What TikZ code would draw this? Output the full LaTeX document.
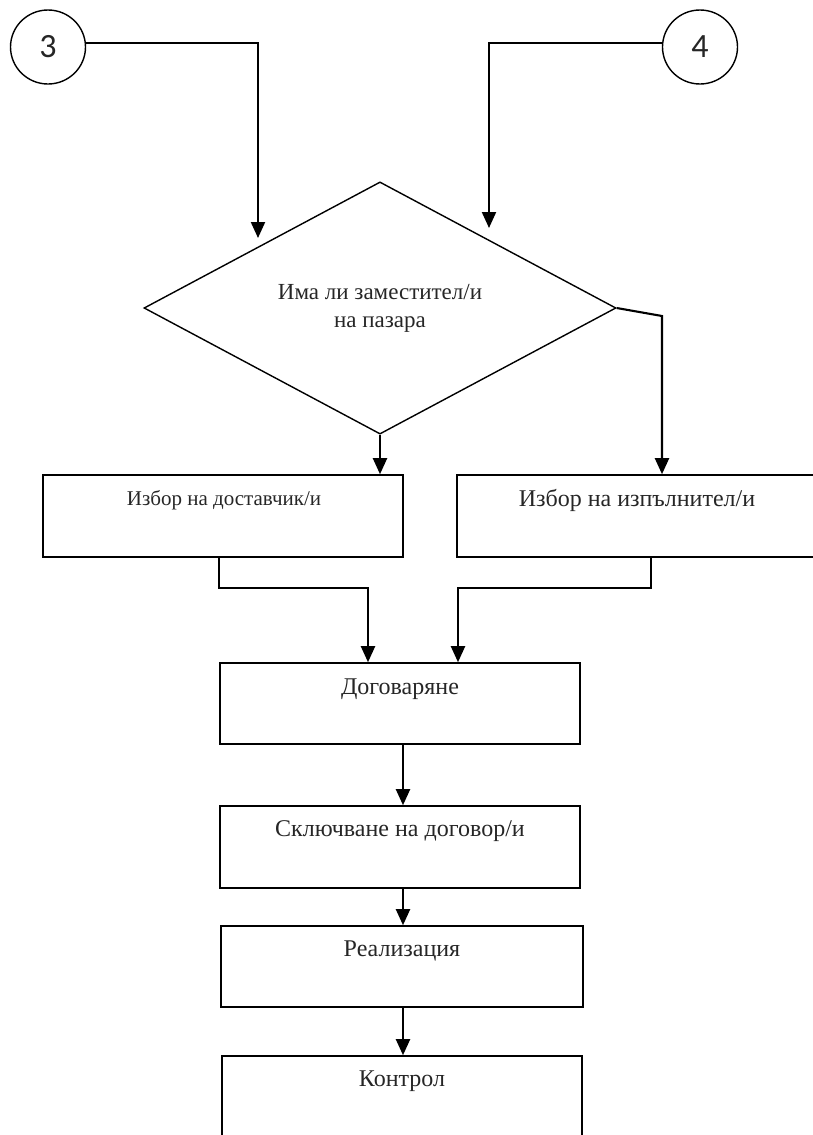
\documentclass[tikz,border=0pt]{standalone}
\usepackage{fontspec}
\setmainfont{Liberation Serif}
\newfontfamily\digitfont{Carlito}
\usetikzlibrary{shapes.geometric,arrows.meta,calc}
\begin{document}
\begin{tikzpicture}[x=1pt,y=-1pt,
  conn/.style={line width=2.1pt},
  arr/.style={conn,-{Triangle[width=14pt,length=16pt]}},
  onpage/.style={draw,line width=1.4pt,ellipse,minimum width=75pt,minimum height=74pt,inner sep=0pt,font=\digitfont\fontsize{34}{36}\selectfont,text=black!85},
  decision/.style={draw,line width=1.4pt,diamond,minimum width=472pt,minimum height=252pt,inner sep=0pt,align=center,font=\fontsize{23}{28}\selectfont,text=black!85},
  stepbox/.style={draw,line width=1.6pt,rectangle,minimum width=360pt,minimum height=82pt,inner sep=0pt},
  lbl/.style={anchor=center,yshift=-26pt,font=\fontsize{24}{28}\selectfont,text=black!85},
  lblsmall/.style={anchor=center,yshift=-26pt,font=\fontsize{21}{24}\selectfont,text=black!85}
]
\useasboundingbox (0,0) rectangle (813,1135);
\clip (0,0) rectangle (813,1135);

\node[onpage] (c3) at (48,47) {3};
\node[onpage] (c4) at (700,47) {4};
\node[decision] (dia) at (380,308) {Има ли заместител/и\\на пазара};

\coordinate (t3) at (258,238);
\coordinate (t4) at (489,228);

\node[stepbox,label={[lblsmall,xshift=1pt]north:Избор на доставчик/и}] (b1) at (223,516) {};
\node[stepbox,label={[lbl]north:Избор на изпълнител/и}] (b2) at (637,516) {};
\node[stepbox,minimum height=81pt,label={[lbl,yshift=-1pt]north:Договаряне}] (dog) at (400,703.5) {};
\node[stepbox,label={[lbl]north:Сключване на договор/и}] (skl) at (400,847) {};
\node[stepbox,minimum width=362pt,minimum height=81pt,label={[lbl]north:Реализация}] (rea) at (402,966.5) {};
\node[stepbox,label={[lbl]north:Контрол}] (kon) at (402,1097) {};

\draw[arr] (c3.6) -| (t3);
\draw[arr] (c4.174) -| (t4);
\draw[arr] (dia.south) -- (dia.south |- b1.north);
\draw[arr] (dia.east) -- ($(dia.east -| b2.north)+(25,8)$) -- ([xshift=25pt]b2.north);

\draw[arr] ([xshift=-4pt]b1.south) -- ++(0,30) -| ([xshift=-32pt]dog.north);
\draw[arr] ([xshift=14pt]b2.south) -- ++(0,30) -| ([xshift=58pt]dog.north);

\draw[arr] ([xshift=3pt]dog.south) -- ([xshift=3pt]skl.north);
\draw[arr] ([xshift=3pt]skl.south) -- ([xshift=1pt]rea.north);
\draw[arr] ([xshift=1pt]rea.south) -- ([xshift=1pt]kon.north);
\end{tikzpicture}
\end{document}
